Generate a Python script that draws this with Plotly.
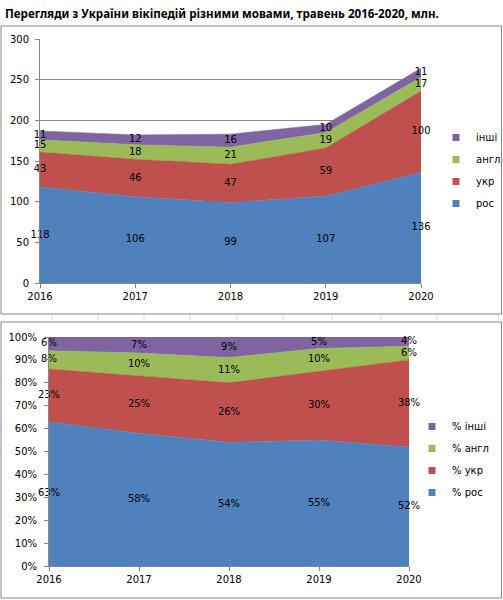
import plotly.graph_objects as go
import numpy as np

W, H = 503, 600

years = ['2016', '2017', '2018', '2019', '2020']
names = ['рос', 'укр', 'англ', 'інші']
colors = ['#4F81BD', '#C0504D', '#9BBB59', '#8064A2']

# millions of views
ros = [118, 106, 99, 107, 136]
ukr = [43, 46, 47, 59, 100]
angl = [15, 18, 21, 19, 17]
inshi = [11, 12, 16, 10, 11]

# shares, %
p_ros = [63, 58, 54, 55, 52]
p_ukr = [23, 25, 26, 30, 38]
p_angl = [8, 10, 11, 10, 6]
p_inshi = [6, 7, 9, 5, 4]

FONT = 'DejaVu Sans'


def px(x):
    return x / W


def py(y):
    return 1 - y / H


fig = go.Figure()


def add_stack(series, xa, ya, group, suffix, legend, prefix):
    base = np.zeros(len(years))
    for name, col, vals in zip(names, colors, series):
        vals = np.array(vals, dtype=float)
        fig.add_trace(go.Scatter(
            x=years, y=vals, xaxis=xa, yaxis=ya, stackgroup=group,
            mode='lines', line=dict(width=0.6, color=col), fillcolor=col,
            showlegend=False, hoverinfo='skip'))
        # label sits in the middle of its band
        mid = base + vals / 2
        fig.add_trace(go.Scatter(
            x=years, y=mid, xaxis=xa, yaxis=ya, mode='text',
            text=[f'{int(v)}{suffix}' for v in vals], cliponaxis=False,
            textfont=dict(family=FONT, size=10, color='black'),
            showlegend=False, hoverinfo='skip'))
        base = base + vals
    # legend entries, top item first
    for name, col in reversed(list(zip(names, colors))):
        fig.add_trace(go.Scatter(
            x=[None], y=[None], xaxis=xa, yaxis=ya, mode='markers',
            marker=dict(symbol='square', size=7, color=col),
            name=prefix + name, legend=legend, legendgroup=legend + name))


add_stack([ros, ukr, angl, inshi], 'x', 'y', 'a', '', 'legend', '')
add_stack([p_ros, p_ukr, p_angl, p_inshi], 'x2', 'y2', 'b', '%', 'legend2', '% ')

axis_common = dict(
    showline=True, linecolor='#868686', linewidth=1, ticks='outside',
    ticklen=4, tickcolor='#868686', tickfont=dict(family=FONT, size=10, color='black'),
    zeroline=False, fixedrange=True, automargin=False)

fig.update_layout(
    width=W, height=H,
    margin=dict(l=0, r=0, t=0, b=0, pad=0, autoexpand=False),
    paper_bgcolor='white', plot_bgcolor='rgba(0,0,0,0)',
    font=dict(family=FONT, size=10, color='black'),
    xaxis=dict(domain=[px(40), px(421)], anchor='y', type='category',
               range=[0, 4], showgrid=False, **axis_common),
    yaxis=dict(domain=[py(283), py(39)], anchor='x', range=[0, 300], dtick=50,
               showgrid=True, gridcolor='#8c8c8c', gridwidth=1,
               ticklabelstandoff=4, **axis_common),
    xaxis2=dict(domain=[px(49), px(409)], anchor='y2', type='category',
                range=[0, 4], showgrid=False, **axis_common),
    yaxis2=dict(domain=[py(566), py(337)], anchor='x2', range=[0, 100], dtick=10,
                ticksuffix='%', showgrid=True, gridcolor='#8c8c8c',
                ticklabelstandoff=5, **axis_common),
    legend=dict(x=px(436), y=py(123), xanchor='left', yanchor='top',
                traceorder='grouped', tracegroupgap=3, bgcolor='rgba(0,0,0,0)',
                font=dict(family=FONT, size=10, color='black')),
    legend2=dict(x=px(412), y=py(412), xanchor='left', yanchor='top',
                 traceorder='grouped', tracegroupgap=3, bgcolor='rgba(0,0,0,0)',
                 font=dict(family=FONT, size=10, color='black')),
    annotations=[dict(
        text='<b>Перегляди з України вікіпедій різними мовами, травень 2016-2020, млн.</b>',
        x=px(3), y=py(13), xref='paper', yref='paper', xanchor='left',
        yanchor='middle', showarrow=False,
        font=dict(family='Noto Sans', size=11.6, color='black'))],
)

shapes = []
# chart frames
for y0, y1 in [(26, 314), (322, 598)]:
    shapes.append(dict(type='rect', xref='paper', yref='paper',
                       x0=px(1), x1=px(501.5), y0=py(y1), y1=py(y0),
                       line=dict(color='#868686', width=1), layer='above'))
# spreadsheet cell borders between the charts
for cx in [52, 98, 144, 190, 237, 283, 332, 381, 437, 498]:
    shapes.append(dict(type='line', xref='paper', yref='paper',
                       x0=px(cx), x1=px(cx), y0=py(321), y1=py(315),
                       line=dict(color='#d9d9d9', width=1)))
fig.update_layout(shapes=shapes)

# page body has a default 8px margin; drop it so the figure fills the window
fig.write_html('out.html', config={'displayModeBar': False},
               post_script="document.body.style.margin='0';")
